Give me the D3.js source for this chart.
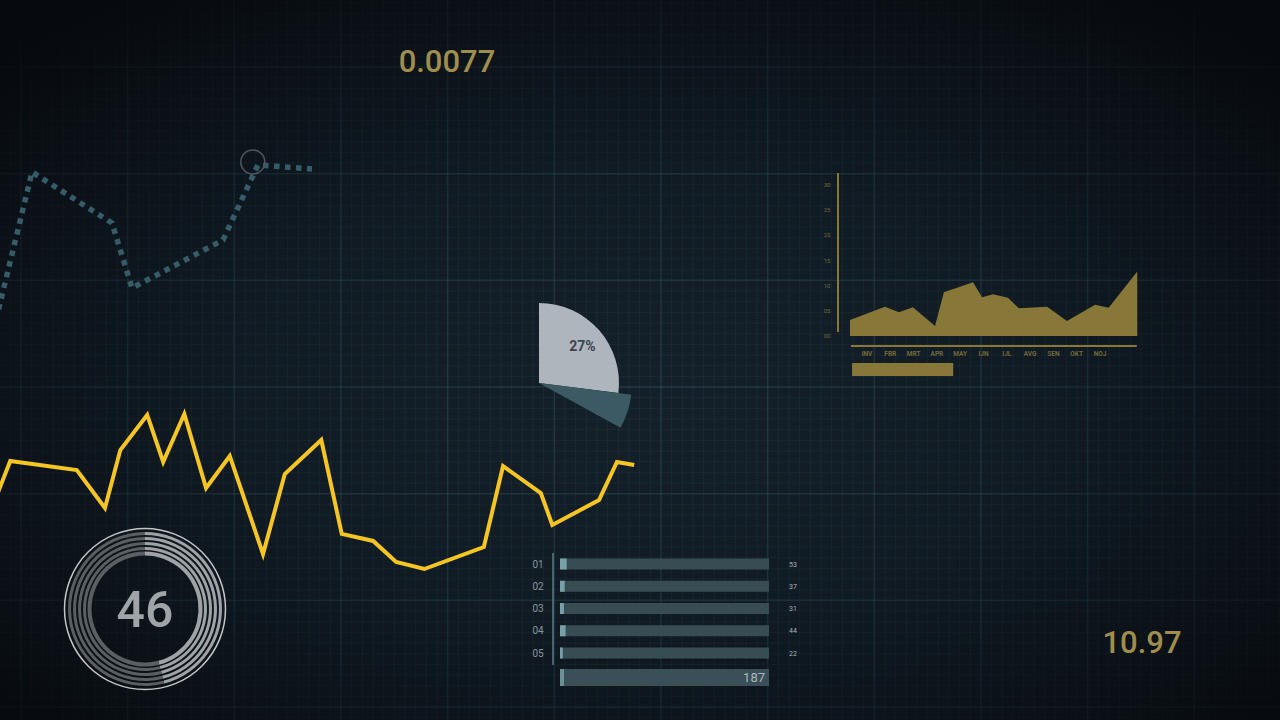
<!DOCTYPE html>
<html><head><meta charset="utf-8">
<script src="https://cdn.jsdelivr.net/npm/d3@7"></script>
<style>html,body{margin:0;padding:0;background:#0b1015;overflow:hidden}</style>
</head><body><svg id="c" width="1280" height="720"></svg>
<script>
// ---------- data ----------
const headlineTop = "0.0077";
const headlineBottom = "10.97";

// dotted trend (abstract units 0..100)
const dotX = [-1.25, 10, 35, 41.25, 69.7, 80.6, 97.5];
const dotY = [0, 92.5, 60.6, 20, 50, 96.9, 94.4];
const dotMarker = [79, 98.75];

// yellow line (abstract units 0..100)
const lineX = [-0.5, 1.6, 12.0, 16.4, 18.8, 23.0, 25.5, 28.8, 32.2, 35.9, 41.1, 44.5, 50.2, 53.4, 58.3, 61.9, 66.3, 75.6, 78.6, 84.5, 86.3, 93.6, 96.4, 99.1];
const lineY = [47, 66.1, 61.1, 40, 72.2, 91.7, 65.6, 92.2, 51.1, 68.9, 14.4, 58.9, 77.8, 25.6, 21.7, 10, 6.1, 18.3, 63.3, 48.3, 30.6, 44.4, 65.6, 63.9];

// pie shares (percent)
const pieShares = [27, 6];
const pieLabel = "27%";

// gauge
const gaugeValue = 46;

// bar list
const barLabels = ["01", "02", "03", "04", "05"];
const barValues = [53, 37, 31, 44, 22];
const barTotal = 187;

// area chart
const monthLabels = ["INV", "FBR", "MRT", "APR", "MAY", "IJN", "IJL", "AVG", "SEN", "OKT", "NOJ"];
const yTicks = [0, 5, 10, 15, 20, 25, 30];
const yTickLabels = ["00", "05", "10", "15", "20", "25", "30"];
const areaMonth = [-0.73, 0.77, 1.37, 1.97, 2.92, 3.30, 4.55, 4.94, 5.41, 6.05, 6.52, 7.73, 8.58, 9.79, 10.37, 11.6];
const areaVal = [3.2, 5.8, 4.7, 5.7, 2.0, 8.7, 10.7, 7.7, 8.3, 7.6, 5.5, 5.8, 3.0, 6.2, 5.6, 12.8];

// ---------- drawing ----------
const W = 1280, H = 720;
const svg = d3.select("#c");
const defs = svg.append("defs");
const vg = defs.append("radialGradient").attr("id", "vig").attr("cx", "50%").attr("cy", "55%").attr("r", "70%");
vg.append("stop").attr("offset", "0%").attr("stop-color", "#04070a").attr("stop-opacity", 0.05);
vg.append("stop").attr("offset", "45%").attr("stop-color", "#04070a").attr("stop-opacity", 0.25);
vg.append("stop").attr("offset", "100%").attr("stop-color", "#04060a").attr("stop-opacity", 0.9);

svg.append("rect").attr("width", W).attr("height", H).attr("fill", "#15212b");

// grid
const minor = W / 120;
const gx0 = 21 - 2 * minor, gy0 = 67 - 7 * minor;
const grid = svg.append("g");
d3.range(0, 125).forEach(k => {
  const x = gx0 + k * minor;
  const major = (k - 2) % 10 === 0;
  grid.append("line").attr("x1", x).attr("x2", x).attr("y1", 0).attr("y2", H)
    .attr("stroke", major ? "#37606a" : "#2a414c").attr("stroke-opacity", major ? 0.45 : 0.4)
    .attr("stroke-width", major ? 1.5 : 1);
});
d3.range(0, 75).forEach(k => {
  const y = gy0 + k * minor;
  const major = (k - 7) % 10 === 0;
  grid.append("line").attr("y1", y).attr("y2", y).attr("x1", 0).attr("x2", W)
    .attr("stroke", major ? "#37606a" : "#2a414c").attr("stroke-opacity", major ? 0.45 : 0.4)
    .attr("stroke-width", major ? 1.5 : 1);
});
svg.append("rect").attr("width", W).attr("height", H).attr("fill", "url(#vig)");

const gold = "#a08e4e";

// headline numbers
svg.append("text").attr("x", 447).attr("y", 72).attr("text-anchor", "middle")
  .attr("font-family", "Roboto, sans-serif").attr("font-weight", 500).attr("font-size", 31).attr("fill", gold).text(headlineTop);
svg.append("text").attr("x", 1142).attr("y", 653).attr("text-anchor", "middle")
  .attr("font-family", "Roboto, sans-serif").attr("font-weight", 500).attr("font-size", 31).attr("fill", gold).text(headlineBottom);

// dotted trend
const dx = d3.scaleLinear().domain([0, 100]).range([0, 320]);
const dy = d3.scaleLinear().domain([0, 100]).range([320, 160]);
const dotPts = dotX.map((v, i) => [v, dotY[i]]);
svg.append("path").datum(dotPts)
  .attr("d", d3.line().x(d => dx(d[0])).y(d => dy(d[1])))
  .attr("fill", "none").attr("stroke", "#365c6a").attr("stroke-width", 5.5)
  .attr("stroke-dasharray", "5.5 5.5").attr("stroke-linejoin", "miter");
svg.append("circle").attr("cx", dx(dotMarker[0])).attr("cy", dy(dotMarker[1])).attr("r", 12)
  .attr("fill", "none").attr("stroke", "#4e575e").attr("stroke-width", 1.5);

// yellow line
const lx = d3.scaleLinear().domain([0, 100]).range([0, 640]);
const ly = d3.scaleLinear().domain([0, 100]).range([580, 400]);
svg.append("path").datum(lineX.map((v, i) => [v, lineY[i]]))
  .attr("d", d3.line().x(d => lx(d[0])).y(d => ly(d[1])))
  .attr("fill", "none").attr("stroke", "#f5c523").attr("stroke-width", 4).attr("stroke-linejoin", "miter");

// pie
const pieG = svg.append("g").attr("transform", "translate(539,383)");
const ang = d3.scaleLinear().domain([0, 100]).range([0, 2 * Math.PI]);
let cum = 0;
const pieRadius = [80, 93];
const pieColors = ["#aeb5bc", "#3b5a63"];
pieShares.forEach((s, i) => {
  pieG.append("path").attr("d", d3.arc().innerRadius(0).outerRadius(pieRadius[i])
    .startAngle(ang(cum)).endAngle(ang(cum + s))()).attr("fill", pieColors[i]);
  cum += s;
});
const labA = ang(pieShares[0] / 2);
pieG.append("text").attr("x", Math.sin(labA) * 58).attr("y", -Math.cos(labA) * 58 + 6)
  .attr("text-anchor", "middle").attr("font-family", "Roboto, sans-serif").attr("font-weight", "bold")
  .attr("font-size", 14).attr("fill", "#3a4651").text(pieLabel);

// gauge
const gG = svg.append("g").attr("transform", "translate(145,609)");
gG.append("circle").attr("r", 80.5).attr("fill", "none").attr("stroke", "#c2c5c8").attr("stroke-width", 1.5);
const rings = [{r: 75.5, w: 3}, {r: 70.5, w: 3}, {r: 65.5, w: 3}, {r: 60.5, w: 3}, {r: 55.5, w: 4}];
const gAng = d3.scaleLinear().domain([0, 100]).range([0, 2 * Math.PI]);
rings.forEach(rg => {
  const a = d3.arc().innerRadius(rg.r - rg.w / 2).outerRadius(rg.r + rg.w / 2);
  gG.append("path").attr("d", a.startAngle(0).endAngle(gAng(gaugeValue))()).attr("fill", "#9fa3a7");
  gG.append("path").attr("d", a.startAngle(gAng(gaugeValue)).endAngle(2 * Math.PI)()).attr("fill", "#5a5f63");
});
gG.append("text").attr("y", 18).attr("text-anchor", "middle").attr("font-family", "Roboto, sans-serif")
  .attr("font-weight", 500).attr("font-size", 50).attr("fill", "#9fa4a8").text(gaugeValue);

// bar list
const by = d3.scalePoint().domain(barLabels).range([564, 653]);
const bw = d3.scaleLinear().domain([0, 1650]).range([0, 209]);
const bx0 = 560, bFull = 209;
svg.append("line").attr("x1", 553).attr("x2", 553).attr("y1", 553).attr("y2", 665)
  .attr("stroke", "#5d7b84").attr("stroke-width", 1.5);
barLabels.forEach((lab, i) => {
  const y = by(lab);
  svg.append("text").attr("x", 538).attr("y", y + 3.5).attr("text-anchor", "middle")
    .attr("font-family", "Roboto, sans-serif").attr("font-size", 10).attr("fill", "#8797a0").text(lab);
  svg.append("rect").attr("x", bx0).attr("y", y - 5.5).attr("width", bFull).attr("height", 11).attr("fill", "#384c54");
  svg.append("rect").attr("x", bx0).attr("y", y - 5.5).attr("width", bw(barValues[i])).attr("height", 11).attr("fill", "#76a0aa");
  svg.append("text").attr("x", 793).attr("y", y + 2.5).attr("text-anchor", "middle")
    .attr("font-family", "Roboto, sans-serif").attr("font-size", 7).attr("fill", "#a9b4ba").text(barValues[i]);
});
svg.append("rect").attr("x", bx0).attr("y", 669).attr("width", bFull).attr("height", 17).attr("fill", "#3a4f57");
svg.append("rect").attr("x", bx0).attr("y", 669).attr("width", 4).attr("height", 17).attr("fill", "#6a909a");
svg.append("text").attr("x", 765).attr("y", 682).attr("text-anchor", "end")
  .attr("font-family", "Roboto, sans-serif").attr("font-size", 13).attr("fill", "#a9b8be").text(barTotal);

// area chart
const ax = d3.scaleLinear().domain([0, 10]).range([867, 1100]);
const ay = d3.scaleLinear().domain([0, 30]).range([336, 185]);
const areaCol = "#877839";
svg.append("path").datum(areaMonth.map((m, i) => [m, areaVal[i]]))
  .attr("d", d3.area().x(d => ax(d[0])).y0(ay(0)).y1(d => ay(d[1])))
  .attr("fill", areaCol);
svg.append("line").attr("x1", 838).attr("x2", 838).attr("y1", ay(32.4)).attr("y2", ay(0.8))
  .attr("stroke", areaCol).attr("stroke-width", 2);
svg.append("line").attr("x1", ax(-0.69)).attr("x2", ax(11.58)).attr("y1", 346).attr("y2", 346)
  .attr("stroke", areaCol).attr("stroke-width", 2);
yTicks.forEach((t, i) => {
  svg.append("text").attr("x", 827).attr("y", ay(t) + 2).attr("text-anchor", "middle")
    .attr("font-family", "Roboto, sans-serif").attr("font-size", 6).attr("fill", "#74683a").text(yTickLabels[i]);
});
monthLabels.forEach((m, i) => {
  svg.append("text").attr("x", ax(i)).attr("y", 356).attr("text-anchor", "middle")
    .attr("font-family", "Roboto, sans-serif").attr("font-weight", "bold").attr("font-size", 6.5)
    .attr("fill", "#74683a").text(m);
});
svg.append("rect").attr("x", ax(-0.64)).attr("y", 363).attr("width", ax(3.7) - ax(-0.64)).attr("height", 13)
  .attr("fill", areaCol);
</script>
</body></html>
